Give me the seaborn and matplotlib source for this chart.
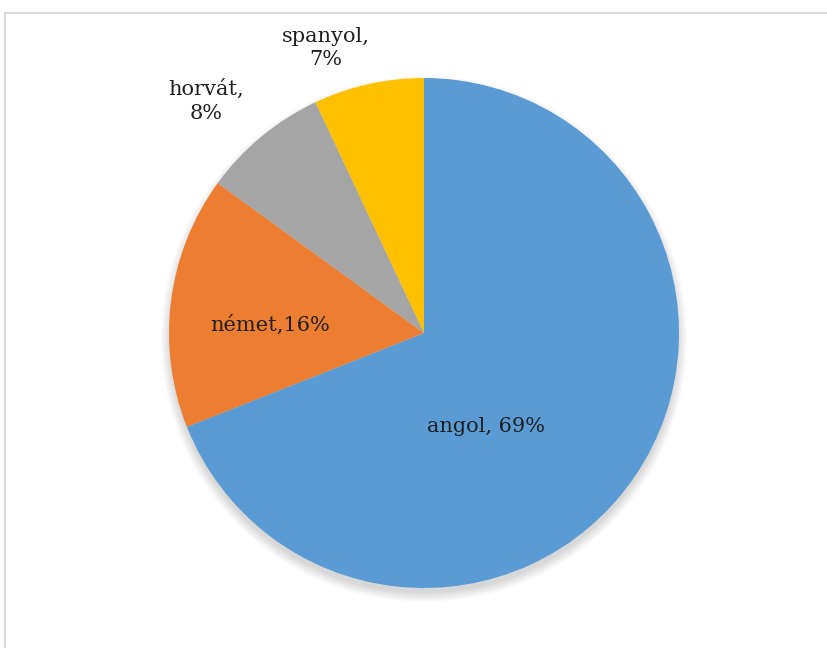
import matplotlib
matplotlib.use("Agg")
import matplotlib.pyplot as plt
from matplotlib.patches import Circle, Rectangle
import seaborn as sns

categories = ["angol", "német", "horvát", "spanyol"]
values = [69, 16, 8, 7]
label_texts = ["angol, 69%", "német,16%", "horvát,\n8%", "spanyol,\n7%"]
colors = ["#5B9BD5", "#ED7D31", "#A5A5A5", "#FFC000"]

sns.set_theme(style="white")
plt.rcParams["font.family"] = ["DejaVu Serif"]

W, H = 827, 648
fig = plt.figure(figsize=(W / 100, H / 100), dpi=100)
ax = fig.add_axes([0, 0, 1, 1])
ax.set_xlim(0, W)
ax.set_ylim(0, H)
ax.set_aspect("equal")
ax.axis("off")

cx, cy, r = 424, H - 333, 255

# soft shadow (mostly below the pie)
for i in range(10):
    ax.add_patch(Circle((cx, cy - 6), r + 8 - i, color="black", alpha=0.014, lw=0, zorder=0))

wedges, _ = ax.pie(values, colors=colors, startangle=90, counterclock=False,
                   center=(cx, cy), radius=r, frame=True,
                   wedgeprops=dict(linewidth=0))
ax.set_xlim(0, W)
ax.set_ylim(0, H)
ax.axis("off")

label_pos = [(486, 426), (270, 325), (206, 101), (326, 48)]
for txt, (x, y) in zip(label_texts, label_pos):
    ax.text(x, H - y, txt, ha="center", va="center", fontsize=15,
            color="#1f1f1f", linespacing=1.3, zorder=5)

fig.add_artist(Rectangle((5 / W, -0.1), 1.2, (H - 13) / H + 0.1,
                         transform=fig.transFigure, fill=False,
                         edgecolor="#D9D9D9", linewidth=1.5))

fig.savefig("out.png", dpi=100)
